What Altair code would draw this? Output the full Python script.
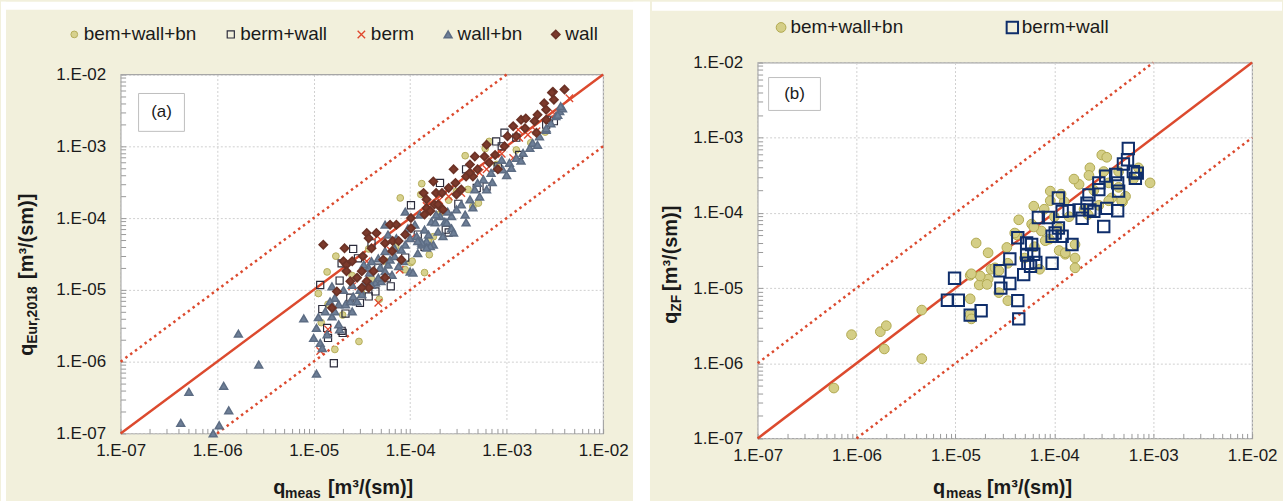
import altair as alt
import pandas as pd

FONT = "Liberation Sans"
BEIGE = "#f2f0dc"
RED = "#dc4a2e"
INK = "#1a1a1a"

# ---------------- panel (a): q_meas vs q_Eur,2018 ----------------
a_bwb_meas = [1.38e-5, 1.7e-5, 1.66e-5, 2.95e-5, 3.72e-5, 4.79e-5, 1.02e-4, 1.41e-4, 1.58e-4, 8.9e-5,
              7.9e-5, 1.32e-4, 1.29e-4, 3.72e-4, 6.0e-4, 4.47e-4, 5.1e-4, 1.05e-4, 1.55e-4, 3.02e-4,
              6.6e-4, 1.74e-4, 1.12e-5, 1.41e-5, 2.0e-5, 2.51e-5, 3.16e-5, 3.98e-5, 5.6e-5, 7.1e-5,
              2.0e-4, 2.51e-4, 3.98e-4, 7.9e-4, 1.26e-3, 1.78e-3, 2.51e-3, 1.2e-5]
a_bwb_eur = [1.78e-5, 2.95e-5, 1.48e-6, 1.91e-6, 3.72e-5, 7.4e-6, 2.4e-5, 1.74e-5, 3.09e-5, 1.91e-5,
             1.91e-4, 3.02e-4, 2.14e-4, 7.4e-4, 9.3e-4, 1.45e-4, 1.62e-4, 2.51e-5, 4.79e-5, 2.34e-4,
             1.17e-3, 5.5e-5, 8.9e-6, 6.3e-6, 4.47e-6, 1.58e-5, 8.9e-6, 1.41e-5, 2.51e-5, 3.98e-5,
             1.12e-4, 1.78e-4, 2.51e-4, 5.6e-4, 8.9e-4, 1.12e-3, 1.58e-3, 3.5e-6]

a_bw_meas = [1.17e-5, 1.23e-5, 1.38e-5, 1.41e-5, 1.62e-5, 1.95e-5, 2.14e-5, 1.86e-5, 1.95e-5, 2.57e-5,
             2.88e-5, 2.4e-5, 3.72e-5, 4.37e-5, 6.3e-5, 5.75e-5, 1.02e-4, 1.2e-4, 2.34e-4, 4.68e-5,
             3.02e-5, 2.0e-5, 2.04e-4, 2.51e-4, 3.8e-4, 4.9e-4, 6.2e-4, 8.1e-4, 9.5e-4, 8.9e-4,
             1.26e-3, 1.35e-3, 2.57e-3, 3.09e-3, 7.8e-4, 2.75e-3, 1.41e-4, 8.9e-5, 3.16e-4, 3.98e-5]
a_bw_eur = [1.17e-5, 5.4e-6, 2.95e-6, 2.14e-6, 9.5e-7, 2.69e-6, 4.68e-6, 1.35e-5, 2.34e-5, 3.72e-5,
            2.75e-5, 7.8e-6, 8.1e-6, 9.5e-6, 1.12e-5, 1.48e-5, 1.51e-4, 5.9e-5, 6.9e-5, 2.04e-5,
            6.6e-6, 2.51e-6, 3.09e-4, 6.3e-5, 4.79e-4, 2.63e-4, 2.75e-4, 5.25e-4, 1.55e-3, 1.0e-3,
            1.32e-3, 7.6e-4, 2.0e-3, 2.24e-3, 1.17e-3, 2.34e-3, 3.98e-5, 2.82e-5, 1.58e-4, 4.47e-5]

a_b_meas = [1.17e-5, 4.68e-5, 7.8e-5, 1.02e-4, 3.39e-4, 6.2e-4, 1.17e-3, 1.35e-3, 2.04e-3, 4.47e-3,
            4.57e-5, 1.66e-3, 1.32e-3, 5.25e-4, 1.48e-4, 1.41e-5, 2.51e-5, 3.55e-5, 2.0e-4, 2.51e-4,
            8.9e-4, 3.16e-3, 6.3e-5]
a_b_eur = [1.41e-6, 6.6e-6, 1.91e-5, 5.25e-5, 2.24e-4, 4.79e-4, 6.9e-4, 1.32e-3, 1.62e-3, 4.68e-3,
           5.6e-5, 1.45e-3, 1.7e-3, 4.27e-4, 1.48e-4, 2.82e-6, 1.12e-5, 2.51e-5, 1.78e-4, 2.0e-4,
           7.9e-4, 2.82e-3, 3.55e-5]

a_wbn_meas = [4.2e-7, 5.1e-7, 9.1e-7, 1.05e-6, 1.17e-6, 1.32e-6, 1.66e-6, 2.7e-6, 7.9e-6, 1.07e-5, 1.0e-4,
              1.12e-5, 1.07e-5, 1.0e-5, 1.17e-5, 1.38e-5, 1.23e-5, 1.55e-5, 1.66e-5, 1.82e-5, 1.86e-5,
              2.14e-5, 1.66e-5, 2.04e-5, 1.55e-5, 2.4e-5, 2.57e-5, 2.82e-5, 3.02e-5, 2.51e-5, 3.39e-5,
              3.8e-5, 4.37e-5, 4.9e-5, 5.5e-5, 5.9e-5, 6.5e-5, 6.2e-5, 6.9e-5, 7.6e-5, 8.5e-5,
              5.0e-5, 5.5e-5, 4.68e-5, 3.98e-5, 3.72e-5, 3.31e-5, 1.07e-4, 8.9e-5, 1.0e-4, 1.17e-4,
              1.32e-4, 1.48e-4, 1.2e-4, 1.55e-4, 1.26e-4, 1.66e-4, 1.95e-4, 2.29e-4, 2.69e-4, 9.5e-5,
              8.9e-5, 7.2e-5, 5.9e-5, 1.12e-4, 1.41e-4, 1.74e-4, 5.5e-5,
              1.62e-4, 1.82e-4, 2.04e-4, 2.4e-4, 2.69e-4, 3.02e-4, 3.39e-4, 3.72e-4, 4.17e-4, 4.68e-4,
              5.0e-4, 5.75e-4, 6.2e-4, 6.9e-4, 7.8e-4, 8.9e-4, 9.1e-4, 1.07e-3, 1.26e-3, 1.48e-3,
              1.74e-3, 1.86e-3, 2.09e-3, 2.19e-3, 2.57e-3, 2.88e-3, 3.24e-3, 3.55e-3, 3.8e-3, 2.82e-4,
              2.19e-4, 3.8e-4, 1.32e-4, 1.48e-4, 3.63e-3, 3.39e-3, 2.57e-3,
              4.47e-4, 5.25e-4, 7.1e-4, 1.0e-3, 1.12e-3, 1.41e-3,
              1.32e-5, 1.48e-5, 1.82e-5, 2.51e-5, 3.16e-5, 3.98e-5, 4.68e-5, 6.9e-5, 8.1e-5, 1.2e-4,
              1.86e-4, 2.45e-4]
a_wbn_eur = [1.4e-7, 3.8e-7, 1.0e-7, 1.3e-7, 4.6e-7, 2.1e-7, 2.45e-6, 9.1e-7, 4.0e-6, 6.8e-7, 1.8e-5,
             4.17e-6, 2.95e-6, 2.14e-6, 1.82e-6, 2.4e-6, 1.55e-6, 4.27e-6, 5.0e-6, 6.3e-6, 2.82e-6,
             6.3e-6, 7.76e-6, 1.0e-5, 1.12e-5, 6.9e-6, 8.1e-6, 6.9e-6, 1.0e-5, 1.17e-5, 1.26e-5,
             1.74e-5, 1.26e-5, 2.04e-5, 1.82e-5, 2.24e-5, 1.62e-5, 2.63e-5, 2.95e-5, 2.14e-5, 2.51e-5,
             1.32e-5, 3.47e-5, 2.75e-5, 2.51e-5, 2.04e-5, 2.24e-5, 1.74e-5, 4.27e-5, 5.25e-5, 5.6e-5,
             4.27e-5, 4.79e-5, 3.24e-5, 5.9e-5, 1.12e-4, 8.9e-5, 6.5e-5, 8.9e-5, 7.2e-5, 7.2e-5,
             1.23e-4, 5.25e-5, 5.9e-5, 8.1e-5, 6.9e-5, 4.27e-5, 8.1e-5,
             4.07e-5, 8.7e-5, 1.07e-4, 8.7e-5, 1.07e-4, 1.32e-4, 1.55e-4, 1.12e-4, 1.82e-4, 2.51e-4,
             3.09e-4, 3.47e-4, 2.51e-4, 4.27e-4, 5.0e-4, 6.5e-4, 4.79e-4, 5.9e-4, 6.9e-4, 8.1e-4,
             9.5e-4, 1.12e-3, 1.05e-3, 1.38e-3, 1.7e-3, 2.09e-3, 2.63e-3, 3.09e-3, 3.39e-3, 6.3e-5,
             5.6e-5, 8.7e-5, 4.57e-5, 3.89e-5, 3.63e-3, 2.75e-3, 1.78e-3,
             1.41e-4, 2.0e-4, 3.16e-4, 3.98e-4, 5.0e-4, 6.3e-4,
             5.0e-6, 6.9e-6, 3.31e-6, 5.0e-6, 8.7e-6, 1.17e-5, 1.48e-5, 3.8e-5, 3.63e-5, 4.79e-5,
             1.12e-4, 1.23e-4]

a_w_meas = [1.26e-5, 2.09e-5, 3.55e-5, 4.47e-5, 3.72e-5, 2.04e-5, 2.19e-5, 2.19e-5, 3.24e-5, 3.16e-5,
            4.17e-5, 3.55e-5, 3.72e-5, 3.16e-5, 2.4e-5, 1.74e-5, 1.55e-5, 5.25e-5, 5.5e-5, 6.6e-5,
            7.6e-5, 8.1e-5, 6.2e-5, 7.2e-5, 1.02e-4, 1.48e-4, 1.78e-4, 2.09e-4, 5.5e-5, 1.02e-4,
            1.48e-4, 1.74e-4, 1.86e-4, 1.95e-4, 2.19e-4, 2.51e-4, 2.82e-4, 2.95e-4, 3.02e-4, 3.39e-4,
            3.8e-4, 4.17e-4, 4.47e-4, 4.68e-4, 5.0e-4, 5.9e-4, 6.2e-4, 6.6e-4, 7.6e-4, 8.1e-4,
            9.5e-4, 1.02e-3, 1.17e-3, 1.26e-3, 1.41e-3, 1.55e-3, 1.58e-3, 1.95e-3, 2.04e-3, 2.09e-3,
            2.57e-3, 2.45e-3, 3.02e-3, 3.09e-3, 3.98e-3, 2.57e-3, 1.38e-4, 2.14e-4, 4.17e-4, 1.62e-4,
            2.95e-3, 2.51e-5, 3.98e-5, 6.5e-5, 8.9e-5, 1.41e-4, 2.82e-5]
a_w_eur = [4.27e-5, 3.8e-5, 6.2e-5, 6.2e-5, 5.25e-5, 2.51e-5, 2.24e-5, 1.82e-5, 2.95e-5, 1.82e-5,
           1.82e-5, 1.32e-5, 1.07e-5, 1.07e-5, 1.32e-5, 9.5e-6, 5.6e-6, 2.63e-5, 4.47e-5, 4.79e-5,
           4.79e-5, 2.63e-5, 8.1e-5, 8.1e-5, 7.2e-5, 1.38e-4, 1.55e-4, 1.38e-4, 1.48e-5, 1.0e-4,
           1.82e-4, 3.24e-4, 2.24e-4, 1.55e-4, 1.32e-4, 2.63e-4, 4.79e-4, 3.09e-4, 2.14e-4, 2.51e-4,
           3.8e-4, 5.6e-4, 3.8e-4, 7.2e-4, 4.79e-4, 7.2e-4, 1.05e-3, 5.9e-4, 7.6e-4, 4.79e-4,
           1.0e-3, 1.38e-3, 1.91e-3, 1.38e-3, 2.34e-3, 1.78e-3, 2.45e-3, 2.24e-3, 1.55e-3, 2.75e-3,
           3.24e-3, 3.98e-3, 5.75e-3, 4.47e-3, 6.2e-3, 2.34e-3, 2.24e-4, 2.24e-4, 4.27e-4, 1.26e-4,
           5.6e-3, 2.51e-5, 3.8e-5, 3.47e-5, 5.9e-5, 1.12e-4, 1.48e-5]

# ---------------- panel (b): q_meas vs q_ZF ----------------
b_bwb_meas = [5.9e-7, 8.9e-7, 1.74e-6, 2.0e-6, 1.91e-6, 4.57e-6, 4.57e-6, 1.41e-5, 1.41e-5, 1.74e-5,
              2.14e-5, 1.62e-5, 2.14e-5, 2.29e-5, 3.39e-5, 3.39e-5, 4.17e-5, 1.41e-5, 1.45e-5, 2.75e-5,
              3.02e-4, 3.39e-4, 9.3e-4, 2.29e-4, 1.78e-4, 9.1e-5, 6.2e-5, 4.37e-5, 3.98e-5, 2.51e-5,
              2.75e-5, 1.62e-4, 1.62e-4, 1.29e-4, 4.9e-4, 5.25e-4, 3.8e-4, 5.9e-5, 7.4e-5, 3.31e-5,
              1.78e-5, 2.09e-5, 7.9e-5, 1.0e-4, 1.12e-4, 1.26e-4, 1.41e-4, 2.0e-4, 2.51e-4, 2.82e-4,
              3.55e-4, 4.47e-4, 6.3e-4, 7.1e-4, 5.0e-5, 6.3e-5, 8.9e-5, 1.12e-4, 7.1e-5, 1.58e-4,
              2.24e-4, 3.16e-4, 1.45e-5, 6.2e-5, 8.1e-5, 1.29e-4, 1.17e-4, 9.1e-5, 3.55e-4, 4.79e-4,
              4.47e-4, 2.19e-4, 1.62e-4]
b_bwb_zf = [4.68e-7, 2.4e-6, 2.63e-6, 3.16e-6, 1.55e-6, 5.1e-6, 1.15e-6, 7.2e-6, 1.48e-5, 1.1e-5,
            1.32e-5, 3.98e-5, 2.95e-5, 1.78e-5, 6.8e-6, 2.14e-5, 5.1e-5, 4.47e-6, 3.89e-6, 8.7e-6,
            5.9e-4, 5.5e-4, 2.51e-4, 3.98e-4, 2.4e-4, 1.95e-4, 1.23e-4, 8.1e-5, 5.4e-5, 1.86e-5,
            1.7e-5, 2.51e-5, 1.86e-5, 2.82e-5, 1.41e-4, 1.66e-4, 1.58e-4, 7.1e-5, 5.75e-5, 3.47e-5,
            1.45e-5, 1.12e-5, 1.12e-4, 8.9e-5, 6.3e-5, 1.41e-4, 8.9e-5, 1.12e-4, 2.0e-4, 1.26e-4,
            2.51e-4, 3.55e-4, 2.82e-4, 3.98e-4, 2.51e-5, 3.55e-5, 4.47e-5, 3.16e-5, 1.78e-5, 2.82e-4,
            3.16e-4, 3.55e-4, 1.55e-5, 6.5e-5, 4.27e-5, 2.95e-5, 1.78e-4, 1.45e-4, 1.45e-4, 1.45e-4,
            2.19e-4, 9.5e-5, 3.8e-5]

b_bw_meas = [9.8e-6, 8.3e-6, 1.07e-5, 1.41e-5, 1.82e-5, 2.82e-5, 2.88e-5, 3.55e-5, 3.55e-5, 4.27e-5,
             4.37e-5, 4.27e-5, 5.25e-5, 5.4e-5, 5.6e-4, 5.5e-4, 6.9e-4, 6.6e-4, 4.17e-4, 4.37e-4,
             4.47e-4, 3.31e-4, 2.82e-4, 2.82e-4, 2.24e-4, 2.14e-4, 2.29e-4, 3.16e-4, 4.37e-4, 3.39e-4,
             2.51e-4, 1.78e-4, 1.91e-4, 1.41e-4, 1.2e-4, 1.1e-4, 8.7e-5, 6.9e-5, 1.1e-4, 1.02e-4,
             1.2e-4, 9.5e-5, 1.51e-4, 5.25e-5, 5.9e-5, 6.2e-5, 6.5e-5, 5.75e-5, 9.5e-5, 4.9e-5,
             6.3e-4, 5.0e-4]
b_bw_zf = [1.35e-5, 6.9e-6, 6.9e-6, 4.37e-6, 5.0e-6, 1.7e-5, 1.0e-5, 1.15e-5, 2.45e-5, 6.8e-6,
           3.89e-6, 4.68e-5, 2.75e-5, 2.14e-5, 7.2e-4, 5.1e-4, 3.39e-4, 2.88e-4, 3.24e-4, 2.51e-4,
           1.95e-4, 3.09e-4, 2.51e-4, 2.04e-4, 1.74e-4, 1.35e-4, 1.1e-4, 6.6e-5, 1.07e-4, 1.15e-4,
           1.05e-4, 1.1e-4, 8.5e-5, 1.07e-4, 1.05e-4, 1.58e-4, 8.7e-5, 8.7e-5, 6.3e-5, 5.4e-5,
           4.9e-5, 4.9e-5, 3.8e-5, 3.98e-5, 3.8e-5, 2.82e-5, 2.19e-5, 1.95e-5, 2.14e-5, 1.51e-5,
           3.55e-4, 4.47e-4]

# reference lines: 1:1 and factor-10 bands
line_x = [1e-7, 1e-2]
line_y = [1e-7, 1e-2]
upper_x = [1e-7, 1e-3]
upper_y = [1e-6, 1e-2]
lower_x = [1e-6, 1e-2]
lower_y = [1e-7, 1e-3]

decades = [1e-7, 1e-6, 1e-5, 1e-4, 1e-3, 1e-2]
minor_mult = [2, 3, 4, 5, 6, 7, 8, 9]
tick_values = decades + [m * d for d in decades[:-1] for m in minor_mult]

IS_MAJOR = "abs(log(datum.value)/LN10 - round(log(datum.value)/LN10)) < 0.001"
LABEL = IS_MAJOR + " ? '1.E-0' + (-round(log(datum.value)/LN10)) : ''"

X_TITLE = "[m\u00b3/(sm)]"


def make_axis(pad):
    return alt.Axis(values=tick_values, labelExpr=LABEL, labelFlush=False, labelOverlap=False,
                    labelFont=FONT, labelFontSize=17, labelColor=INK, labelPadding=pad,
                    domain=False, ticks=True, tickSize=5, tickColor="#9a9a9a", tickWidth=1,
                    offset=-5, grid=True, gridColor="#d0d0d0", gridDash=[2, 2], gridWidth=1,
                    gridOpacity={"condition": {"test": IS_MAJOR, "value": 1}, "value": 0},
                    title=None)


def frame(series):
    rows = []
    for name, xs, ys in series:
        for xv, yv in zip(xs, ys):
            rows.append({"series": name, "meas": xv, "pred": yv})
    return pd.DataFrame(rows)


dummy = pd.DataFrame({"k": [0]})


def rect(x1, x2, y1, y2, **kw):
    return alt.Chart(dummy).mark_rect(**kw).encode(
        x=alt.value(x1), x2=alt.value(x2), y=alt.value(y1), y2=alt.value(y2))


def rule(x1, x2, y1, y2, **kw):
    return alt.Chart(dummy).mark_rule(**kw).encode(
        x=alt.value(x1), x2=alt.value(x2), y=alt.value(y1), y2=alt.value(y2))


def txt(s, x, y, **kw):
    return alt.Chart(dummy).mark_text(**kw).encode(x=alt.value(x), y=alt.value(y), text=alt.value(s))


def make_panel(pts, dom, fills, strokes, shapes, sizes, widths, leg, w, h, top, deco):
    xsc = alt.Scale(type="log", domain=[1e-7, 1e-2], nice=False)
    ysc = alt.Scale(type="log", domain=[1e-7, 1e-2], nice=False, range=[h, top])
    X = alt.X("meas:Q", scale=xsc, axis=make_axis(9))
    Y = alt.Y("pred:Q", scale=ysc, axis=make_axis(15))
    solid = alt.Chart(pd.DataFrame({"meas": line_x, "pred": line_y})).mark_line(
        color=RED, strokeWidth=2.5).encode(x=X, y=Y)
    dotted = alt.Chart(pd.DataFrame({"meas": upper_x + lower_x, "pred": upper_y + lower_y,
                                     "grp": ["up", "up", "lo", "lo"]})).mark_line(
        color=RED, strokeWidth=2.5, strokeDash=[2.5, 3.5]).encode(x=X, y=Y, detail="grp:N")
    points = alt.Chart(pts).mark_point(filled=True, opacity=1).encode(
        x=X, y=Y,
        fill=alt.Fill("series:N", scale=alt.Scale(domain=dom, range=fills), legend=leg),
        stroke=alt.Stroke("series:N", scale=alt.Scale(domain=dom, range=strokes), legend=leg),
        shape=alt.Shape("series:N", scale=alt.Scale(domain=dom, range=shapes), legend=leg),
        size=alt.Size("series:N", scale=alt.Scale(domain=dom, range=sizes), legend=leg),
        strokeWidth=alt.StrokeWidth("series:N", scale=alt.Scale(domain=dom, range=widths), legend=leg),
    )
    return alt.layer(*deco[0], dotted, solid, points, *deco[1]).properties(width=w, height=h)


def make_legend(x, y, colpad, offset):
    return alt.Legend(title=None, orient="none", legendX=x, legendY=y, direction="horizontal",
                      labelFont=FONT, labelFontSize=19, labelColor=INK, labelOffset=offset,
                      columnPadding=colpad, padding=0)


tb = dict(font=FONT, fontWeight="bold", color=INK, align="left", baseline="alphabetic")
XSHAPE = "M-1,-1L1,1M-1,1L1,-1"

# ---- panel (a) ----  (view top is shared at y=61; the plot itself starts 12 px lower)
dom_a = ["bem+wall+bn", "berm+wall", "berm", "wall+bn", "wall"]
pts_a = frame([
    ("bem+wall+bn", a_bwb_meas, a_bwb_eur),
    ("berm+wall", a_bw_meas, a_bw_eur),
    ("berm", a_b_meas, a_b_eur),
    ("wall+bn", a_wbn_meas, a_wbn_eur),
    ("wall", a_w_meas, a_w_eur),
])
deco_a_back = [
    rect(-120, -115, -61, 440, color="white"),
    rect(-120, 531, -61, -53, color="white"),
    rect(514, 531, -61, 440, color="white"),
    rect(-2, 486, -2, 12, color=BEIGE),
    rule(0, 484, 12, 12, color="#a6a6a6", strokeWidth=1.2),
    rect(18, 64, 31, 69, fill="white", stroke="#bfbfbf", strokeWidth=1),
    txt("(a)", 41, 50, font=FONT, fontSize=17, color=INK, align="center", baseline="middle"),
]
deco_a_front = [
    txt("q", 153, 433, fontSize=20, **tb),
    txt("meas", 165, 437, fontSize=14, **tb),
    txt(X_TITLE, 208, 433, fontSize=20, **tb),
    txt("q", -88, 294, fontSize=20, angle=270, **tb),
    txt("Eur,2018", -84, 282, fontSize=14, angle=270, **tb),
    txt(X_TITLE, -88, 217, fontSize=20, angle=270, **tb),
]
panel_a = make_panel(
    pts_a, dom_a,
    fills=["#d7d18e", "transparent", "transparent", "#6e7f97", "#7c3a2c"],
    strokes=["#b5ad5a", "#2b2b3b", "#e0482e", "#5d6d84", "#6b3226"],
    shapes=["circle", "square", XSHAPE, "triangle-up", "diamond"],
    sizes=[46, 66, 56, 88, 95],
    widths=[1, 1.7, 1.7, 0.8, 0.8],
    leg=make_legend(-56, -38, 24, 0), w=484, h=372, top=12,
    deco=(deco_a_back, deco_a_front))

# ---- panel (b) ----
dom_b = ["bem+wall+bn", "berm+wall"]
pts_b = frame([
    ("bem+wall+bn", b_bwb_meas, b_bwb_zf),
    ("berm+wall", b_bw_meas, b_bw_zf),
])
deco_b_back = [
    rect(-106, 526, -61, -52, color="white"),
    rect(11, 63, 15, 48, fill="white", stroke="#bfbfbf", strokeWidth=1),
    txt("(b)", 37, 32, font=FONT, fontSize=17, color=INK, align="center", baseline="middle"),
]
deco_b_front = [
    txt("q", 176, 433, fontSize=20, **tb),
    txt("meas", 189, 437, fontSize=14, **tb),
    txt(X_TITLE, 230, 433, fontSize=20, **tb),
    txt("q", -81, 262, fontSize=20, angle=270, **tb),
    txt("ZF", -77, 250, fontSize=14, angle=270, **tb),
    txt(X_TITLE, -81, 229, fontSize=20, angle=270, **tb),
]
panel_b = make_panel(
    pts_b, dom_b,
    fills=["#d4ce86", "transparent"],
    strokes=["#b1a950", "#0f2e6b"],
    shapes=["circle", "square"],
    sizes=[95, 130],
    widths=[1, 2],
    leg=make_legend(14, -45, 98, 0), w=496, h=377, top=0,
    deco=(deco_b_back, deco_b_front))

chart = alt.hconcat(panel_a, panel_b, spacing=0, bounds="full").resolve_scale(
    fill="independent", stroke="independent", shape="independent",
    size="independent", strokeWidth="independent",
).resolve_legend(
    fill="independent", stroke="independent", shape="independent",
    size="independent", strokeWidth="independent",
).properties(background=BEIGE, padding=0).configure_view(
    fill="white", stroke="#a6a6a6", strokeWidth=1.2)

chart.save("out.html", embed_options={"renderer": "svg", "actions": False})
